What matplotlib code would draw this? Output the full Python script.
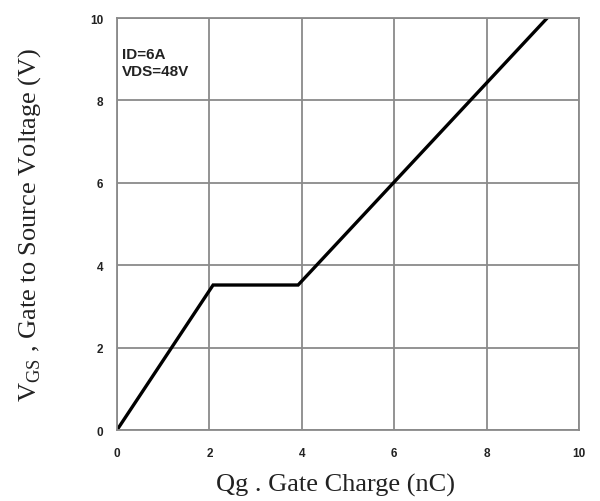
import matplotlib
matplotlib.use("Agg")
import matplotlib.pyplot as plt

plt.rcParams["mathtext.fontset"] = "custom"
plt.rcParams["mathtext.rm"] = "Liberation Serif"

# gate charge curve (Qg in nC, Vgs in V)
qg = [0.0, 2.08, 3.92, 9.31]
vgs = [0.0, 3.52, 3.52, 10.0]

ticks = [0, 2, 4, 6, 8, 10]
tick_labels = ["0", "2", "4", "6", "8", "10"]

fig = plt.figure(figsize=(6, 5.02), dpi=100)
ax = fig.add_axes([0.195, 0.1414, 0.77, 0.8206])

ax.plot(qg, vgs, color="black", linewidth=2.4, solid_joinstyle="miter")

ax.set_xlim(0, 10)
ax.set_ylim(0, 10)
ax.set_xticks(ticks)
ax.set_yticks(ticks)
ax.set_xticklabels(tick_labels, fontsize=8.5, fontweight="bold", family="Liberation Sans")
ax.set_yticklabels(tick_labels, fontsize=8.5, fontweight="bold", family="Liberation Sans")
ax.tick_params(length=0, colors="#222222")
ax.tick_params(axis="x", pad=12)
ax.tick_params(axis="y", pad=10)

ax.grid(True, color="#8a8a8a", linewidth=1.3)
ax.set_axisbelow(True)
for s in ax.spines.values():
    s.set_color("#8a8a8a")
    s.set_linewidth(1.3)

ax.set_xlabel("Qg . Gate Charge (nC)", fontsize=19, family="Liberation Serif",
              labelpad=10, color="#222222")
ax.xaxis.label.set_x(0.474)
ax.set_ylabel(r"V$_{\mathrm{GS}}$ , Gate to Source Voltage (V)", fontsize=19,
              family="Liberation Serif", labelpad=34, color="#222222")

ax.text(0.1, 9.3, "ID=6A\nVDS=48V", fontsize=11, fontweight="bold",
        family="Liberation Sans", va="top", ha="left", linespacing=1.25, color="#222222")

fig.savefig("out.png", dpi=100)
